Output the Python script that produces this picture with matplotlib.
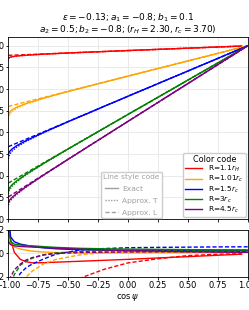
import matplotlib
matplotlib.use("Agg")
import matplotlib.pyplot as plt
from matplotlib.lines import Line2D

# ---- data ----
labels = [r"R=1.1$r_H$", r"R=1.01$r_c$", r"R=1.5$r_c$", r"R=3$r_c$", r"R=4.5$r_c$"]
colors = ["red", "orange", "blue", "green", "purple"]

# top panel: cos(psi) grid (red stops short of 1)
cos_top = [-1.0, -0.99, -0.97, -0.93, -0.85, -0.7, -0.5, 0.0, 0.5, 1.0]
cos_top_red = [-1.0, -0.99, -0.97, -0.93, -0.85, -0.7, -0.5, 0.0, 0.5, 0.95]

exact_red = [-0.29, -0.268, -0.252, -0.235, -0.217, -0.192, -0.166, -0.11, -0.055, -0.006]
apxT_red = [-0.30, -0.275, -0.257, -0.238, -0.218, -0.193, -0.167, -0.11, -0.055, -0.006]
apxL_red = [-0.22, -0.219, -0.217, -0.212, -0.204, -0.187, -0.165, -0.11, -0.055, -0.006]

exact_orange = [-1.60, -1.533, -1.479, -1.417, -1.331, -1.204, -1.054, -0.70, -0.35, 0.0]
apxT_orange = [-1.68, -1.589, -1.519, -1.443, -1.345, -1.21, -1.056, -0.70, -0.35, 0.0]
apxL_orange = [-1.40, -1.393, -1.379, -1.351, -1.295, -1.19, -1.05, -0.70, -0.35, 0.0]

exact_blue = [-2.51, -2.444, -2.385, -2.307, -2.187, -1.994, -1.752, -1.165, -0.583, 0.0]
apxT_blue = [-2.61, -2.514, -2.435, -2.34, -2.205, -2.001, -1.754, -1.165, -0.583, 0.0]
apxL_blue = [-2.33, -2.318, -2.295, -2.248, -2.155, -1.981, -1.748, -1.165, -0.583, 0.0]

exact_green = [-3.35, -3.28, -3.212, -3.118, -2.964, -2.708, -2.382, -1.585, -0.793, 0.0]
apxT_green = [-3.42, -3.329, -3.247, -3.142, -2.977, -2.713, -2.383, -1.585, -0.793, 0.0]
apxL_green = [-3.17, -3.154, -3.122, -3.059, -2.932, -2.695, -2.378, -1.585, -0.793, 0.0]

exact_purple = [-3.62, -3.564, -3.503, -3.411, -3.251, -2.976, -2.621, -1.745, -0.873, 0.0]
apxT_purple = [-3.68, -3.606, -3.533, -3.431, -3.262, -2.98, -2.622, -1.745, -0.873, 0.0]
apxL_purple = [-3.49, -3.473, -3.438, -3.368, -3.228, -2.967, -2.618, -1.745, -0.873, 0.0]

# bottom panel
cos_bot = [-1.0, -0.98, -0.95, -0.9, -0.85, -0.8, -0.7, -0.6, -0.4, -0.2, 0.0, 0.25, 0.5, 0.75, 1.0]
cos_bot_red = [-1.0, -0.98, -0.95, -0.9, -0.85, -0.8, -0.7, -0.6, -0.4, -0.2, 0.0, 0.25, 0.5, 0.75, 0.95]

err_red = [0.3, 0.12, 0.01, -0.05, -0.07, -0.08, -0.078, -0.074, -0.066, -0.058, -0.05, -0.038, -0.027, -0.015, -0.006]
errL_red = [-1.0, -0.9, -0.8, -0.7, -0.65, -0.6, -0.45, -0.35, -0.21, -0.135, -0.08, -0.045, -0.018, -0.006, -0.001]
err_orange = [0.12, 0.08, 0.055, 0.038, 0.028, 0.02, 0.012, 0.008, 0.004, 0.004, 0.005, 0.006, 0.007, 0.009, 0.01]
errL_orange = [-0.8, -0.6, -0.42, -0.28, -0.2, -0.15, -0.085, -0.05, -0.012, 0.008, 0.017, 0.022, 0.025, 0.027, 0.028]
err_blue = [0.3, 0.14, 0.1, 0.08, 0.07, 0.06, 0.048, 0.04, 0.032, 0.028, 0.026, 0.025, 0.024, 0.023, 0.023]
errL_blue = [-0.6, -0.4, -0.26, -0.17, -0.12, -0.09, -0.045, -0.005, 0.03, 0.042, 0.049, 0.052, 0.054, 0.056, 0.057]
err_green = [0.2, 0.1, 0.08, 0.072, 0.068, 0.065, 0.058, 0.052, 0.044, 0.04, 0.037, 0.035, 0.033, 0.031, 0.03]
errL_green = [-0.35, -0.26, -0.18, -0.1, -0.065, -0.04, -0.01, 0.005, 0.017, 0.022, 0.025, 0.027, 0.028, 0.029, 0.03]
err_purple = [0.1, 0.075, 0.065, 0.06, 0.057, 0.055, 0.05, 0.045, 0.037, 0.03, 0.025, 0.02, 0.015, 0.012, 0.01]
errL_purple = [-0.28, -0.2, -0.14, -0.09, -0.055, -0.035, -0.012, 0.0, 0.008, 0.011, 0.013, 0.014, 0.015, 0.015, 0.015]

top_x = [cos_top_red, cos_top, cos_top, cos_top, cos_top]
exact = [exact_red, exact_orange, exact_blue, exact_green, exact_purple]
apxT = [apxT_red, apxT_orange, apxT_blue, apxT_green, apxT_purple]
apxL = [apxL_red, apxL_orange, apxL_blue, apxL_green, apxL_purple]
bot_x = [cos_bot_red, cos_bot, cos_bot, cos_bot, cos_bot]
err = [err_red, err_orange, err_blue, err_green, err_purple]
errL = [errL_red, errL_orange, errL_blue, errL_green, errL_purple]

title = ("$\\epsilon=-0.13; a_1=-0.8; b_1=0.1$\n"
         "$a_2=0.5; b_2=-0.8; (r_H=2.30, r_c=3.70)$")

plt.rcParams["font.size"] = 6
plt.rcParams["axes.linewidth"] = 0.6
plt.rcParams["xtick.major.size"] = 1.8
plt.rcParams["ytick.major.size"] = 1.8
plt.rcParams["xtick.major.pad"] = 1.2
plt.rcParams["ytick.major.pad"] = 1.2
plt.rcParams["xtick.major.width"] = 0.6
plt.rcParams["ytick.major.width"] = 0.6

fig = plt.figure(figsize=(2.49, 3.10), dpi=100)
ax = fig.add_axes([0.0333, 0.2935, 0.9614, 0.5881])
ax2 = fig.add_axes([0.0333, 0.1065, 0.9614, 0.1516], sharex=ax)

lw = 1.0
for i in range(5):
    ax.plot(top_x[i], exact[i], color=colors[i], lw=lw, ls="-", label=labels[i])
    ax.plot(top_x[i], apxT[i], color=colors[i], lw=lw, ls=(0, (1, 1)))
    ax.plot(top_x[i], apxL[i], color=colors[i], lw=lw, ls=(0, (3, 1.5)))
    ax2.plot(bot_x[i], err[i], color=colors[i], lw=lw, ls="-")
    ax2.plot(bot_x[i], errL[i], color=colors[i], lw=lw, ls=(0, (3, 1.5)))

ax.set_xlim(-1, 1)
ax.set_ylim(-4.0, 0.21)
ax.set_yticks([-4.0, -3.5, -3.0, -2.5, -2.0, -1.5, -1.0, -0.5, 0.0])
ax.grid(True, color="#e6e6e6", lw=0.6)
ax.tick_params(labelbottom=False)
ax.set_title(title, fontsize=6.5, pad=3, linespacing=0.95)

ax2.set_ylim(-0.2, 0.2)
ax2.set_yticks([-0.2, 0.0, 0.2])
ax2.set_xticks([-1.0, -0.75, -0.5, -0.25, 0.0, 0.25, 0.5, 0.75, 1.0])
ax2.grid(True, color="#e6e6e6", lw=0.6)
ax2.set_xlabel(r"$\cos\psi$", labelpad=1)

leg1 = ax.legend(loc="lower right", title="Color code", fontsize=5.3, title_fontsize=5.8,
                 handlelength=2.3, borderpad=0.3, labelspacing=0.0, handletextpad=0.8,
                 framealpha=1, borderaxespad=0.25)
style_handles = [Line2D([], [], color="#a0a0a0", lw=lw, ls="-"),
                 Line2D([], [], color="#a0a0a0", lw=lw, ls=(0, (1, 1))),
                 Line2D([], [], color="#a0a0a0", lw=lw, ls=(0, (3, 1.5)))]
leg2 = ax.legend(style_handles, ["Exact", "Approx. T", "Approx. L"], title="Line style code",
                 loc="lower left", bbox_to_anchor=(0.383, 0.0), fontsize=5.4, title_fontsize=5.4,
                 labelcolor="#a0a0a0", handlelength=1.7, borderpad=0.3, labelspacing=0.75,
                 handletextpad=0.6, framealpha=1, borderaxespad=0.15)
leg2.get_title().set_color("#a0a0a0")
ax.add_artist(leg1)

fig.savefig("out.png", dpi=100)
